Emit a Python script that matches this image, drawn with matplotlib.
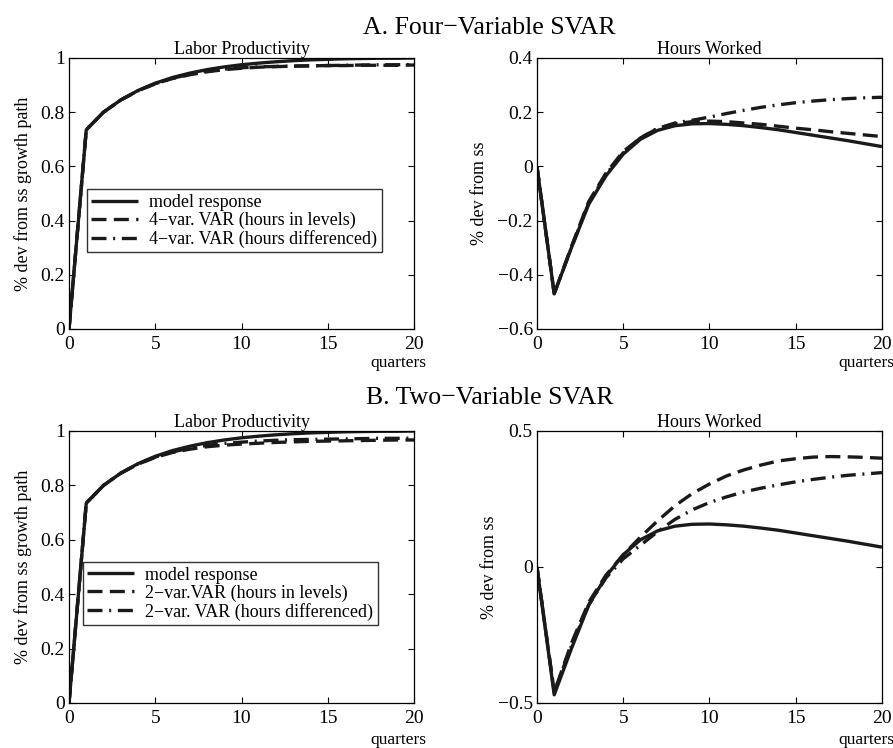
import numpy as np
import matplotlib
matplotlib.use('Agg')
from matplotlib import pyplot as plt

plt.rcParams['font.family'] = ['Liberation Serif', 'DejaVu Serif']
plt.rcParams['mathtext.fontset'] = 'stix'

quarters = np.arange(21)

# labor productivity responses
lp_model = [0, 0.735, 0.80, 0.845, 0.88, 0.907, 0.928, 0.944, 0.957, 0.967, 0.975,
            0.981, 0.986, 0.99, 0.993, 0.995, 0.997, 0.998, 0.999, 0.999, 1.0]
lp_a_levels = [0, 0.735, 0.80, 0.845, 0.879, 0.905, 0.924, 0.938, 0.949, 0.957, 0.962,
               0.966, 0.968, 0.97, 0.971, 0.972, 0.972, 0.973, 0.973, 0.973, 0.974]
lp_a_diff = [0, 0.735, 0.80, 0.845, 0.879, 0.905, 0.925, 0.94, 0.951, 0.959, 0.964,
             0.967, 0.969, 0.97, 0.971, 0.972, 0.973, 0.974, 0.975, 0.975, 0.976]
lp_b_levels = [0, 0.735, 0.80, 0.845, 0.878, 0.903, 0.921, 0.933, 0.942, 0.948, 0.952,
               0.955, 0.958, 0.96, 0.962, 0.963, 0.964, 0.965, 0.966, 0.967, 0.967]
lp_b_diff = [0, 0.735, 0.80, 0.845, 0.879, 0.904, 0.923, 0.937, 0.947, 0.954, 0.959,
             0.963, 0.966, 0.968, 0.969, 0.97, 0.971, 0.972, 0.973, 0.973, 0.974]

# hours worked responses
hw_model = [0, -0.47, -0.30, -0.14, -0.035, 0.045, 0.10, 0.133, 0.15, 0.157, 0.158,
            0.155, 0.15, 0.143, 0.135, 0.125, 0.115, 0.105, 0.095, 0.084, 0.073]
hw_a_levels = [0, -0.47, -0.295, -0.13, -0.025, 0.055, 0.105, 0.14, 0.157, 0.165, 0.167,
               0.165, 0.16, 0.155, 0.148, 0.141, 0.135, 0.128, 0.122, 0.116, 0.11]
hw_a_diff = [0, -0.47, -0.30, -0.135, -0.03, 0.05, 0.105, 0.14, 0.16, 0.17, 0.182,
             0.195, 0.207, 0.218, 0.227, 0.235, 0.241, 0.246, 0.25, 0.253, 0.255]
hw_b_levels = [0, -0.46, -0.28, -0.13, -0.03, 0.045, 0.11, 0.17, 0.225, 0.27, 0.305,
               0.335, 0.357, 0.375, 0.39, 0.398, 0.404, 0.406, 0.405, 0.403, 0.40]
hw_b_diff = [0, -0.46, -0.29, -0.14, -0.04, 0.03, 0.08, 0.13, 0.175, 0.21, 0.237,
             0.258, 0.276, 0.29, 0.302, 0.313, 0.322, 0.33, 0.337, 0.342, 0.347]

legend_a = ['model response', '4\u2212var. VAR (hours in levels)', '4\u2212var. VAR (hours differenced)']
legend_b = ['model response', '2\u2212var.VAR (hours in levels)', '2\u2212var. VAR (hours differenced)']

lw = 2.4
dash = (4.5, 2.2)
dashdot = (4.5, 2.0, 0.6, 2.0)


def style(ax, title, ylabel, ylim, yticks, ypad, qy):
    ax.set_xlim(0, 20)
    ax.set_ylim(*ylim)
    ax.set_xticks([0, 5, 10, 15, 20])
    ax.set_yticks(yticks)
    ax.tick_params(direction='in', top=True, right=True, labelsize=14, length=4, width=0.8)
    ax.tick_params(axis='x', pad=5)
    ax.tick_params(axis='y', pad=3)
    ax.set_title(title, fontsize=13, pad=3)
    ax.set_ylabel(ylabel, fontsize=13, labelpad=ypad)
    ax.text(1.035, qy, 'quarters', transform=ax.transAxes, ha='right', va='top', fontsize=12.5)
    for s in ax.spines.values():
        s.set_linewidth(0.9)


def draw(ax, model, levels, diff):
    ax.plot(quarters, model, color='#1a1a1a', lw=lw, solid_capstyle='butt')
    ax.plot(quarters, levels, color='#1a1a1a', lw=lw, dashes=dash)
    ax.plot(quarters, diff, color='#1a1a1a', lw=lw, dashes=dashdot)


fig = plt.figure(figsize=(8.93, 7.48), dpi=100)
ax1 = fig.add_axes([0.0773, 0.5602, 0.3863, 0.3623])
ax2 = fig.add_axes([0.6013, 0.5602, 0.3863, 0.3623])
ax3 = fig.add_axes([0.0773, 0.0602, 0.3863, 0.3636])
ax4 = fig.add_axes([0.6013, 0.0602, 0.3863, 0.3636])

draw(ax1, lp_model, lp_a_levels, lp_a_diff)
style(ax1, 'Labor Productivity', '% dev from ss growth path', (0, 1), [0, 0.2, 0.4, 0.6, 0.8, 1], 6, -0.095)
ax1.set_yticklabels(['0', '0.2', '0.4', '0.6', '0.8', '1'])
ax1.legend(legend_a, loc='upper left', bbox_to_anchor=(0.052, 0.515), fontsize=13,
           frameon=True, fancybox=False, edgecolor='black', handlelength=2.6,
           borderpad=0.25, labelspacing=0.05, handletextpad=0.6, borderaxespad=0)

draw(ax2, hw_model, hw_a_levels, hw_a_diff)
style(ax2, 'Hours Worked', '% dev from ss', (-0.6, 0.4), [-0.6, -0.4, -0.2, 0, 0.2, 0.4], 7, -0.095)
ax2.set_yticklabels(['\u22120.6', '\u22120.4', '\u22120.2', '0', '0.2', '0.4'])

draw(ax3, lp_model, lp_b_levels, lp_b_diff)
style(ax3, 'Labor Productivity', '% dev from ss growth path', (0, 1), [0, 0.2, 0.4, 0.6, 0.8, 1], 6, -0.105)
ax3.set_yticklabels(['0', '0.2', '0.4', '0.6', '0.8', '1'])
ax3.legend(legend_b, loc='upper left', bbox_to_anchor=(0.04, 0.518), fontsize=13,
           frameon=True, fancybox=False, edgecolor='black', handlelength=2.6,
           borderpad=0.25, labelspacing=0.05, handletextpad=0.6, borderaxespad=0)

draw(ax4, hw_model, hw_b_levels, hw_b_diff)
style(ax4, 'Hours Worked', '% dev from ss', (-0.5, 0.5), [-0.5, 0, 0.5], 0, -0.105)
ax4.set_yticklabels(['\u22120.5', '0', '0.5'])

fig.text(0.548, 0.963, 'A. Four\u2212Variable SVAR', ha='center', va='center', fontsize=18.5)
fig.text(0.548, 0.468, 'B. Two\u2212Variable SVAR', ha='center', va='center', fontsize=18.5)

fig.savefig('out.png', dpi=100)
